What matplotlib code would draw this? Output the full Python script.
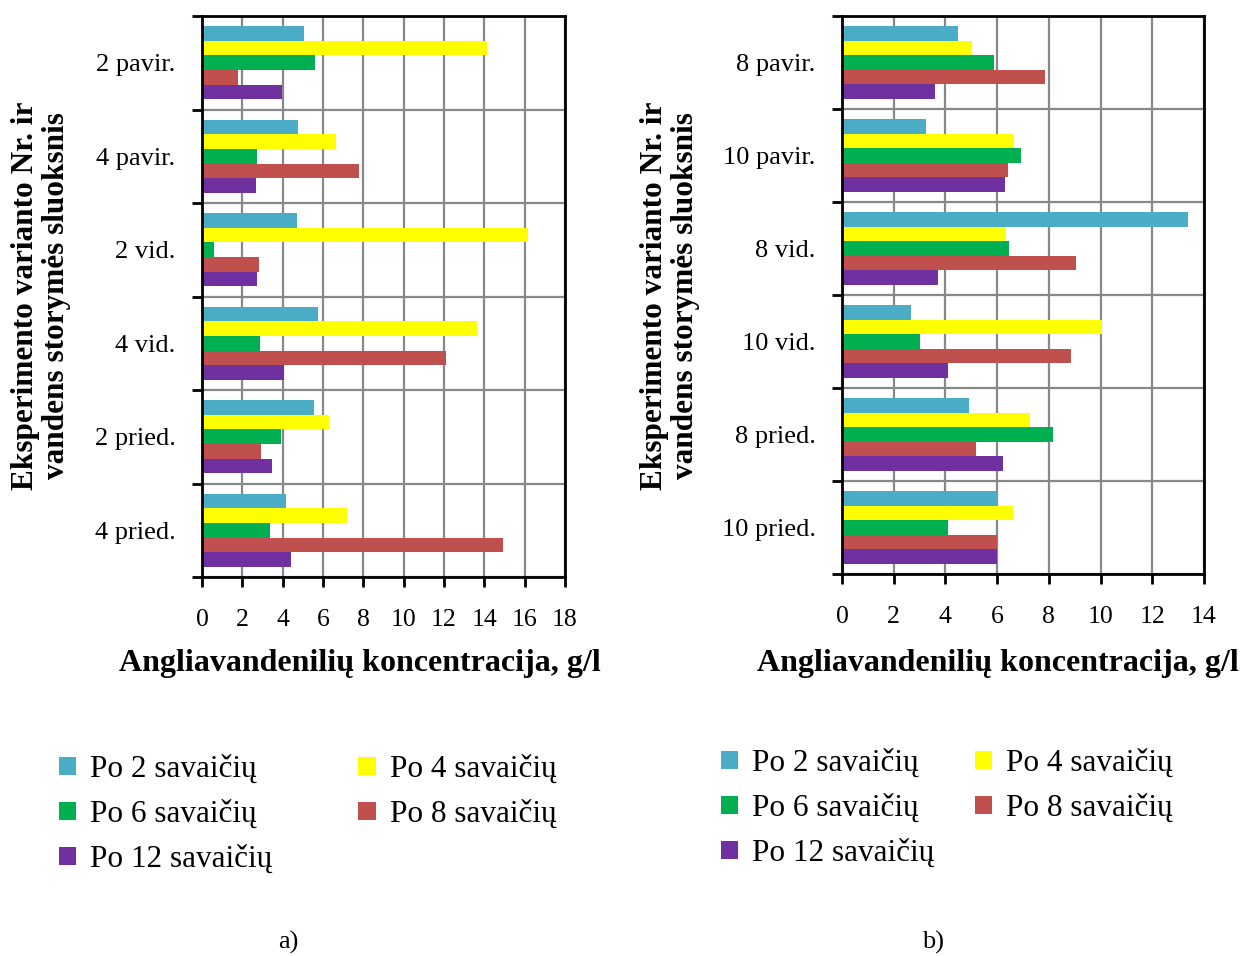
import matplotlib
matplotlib.use("Agg")
import matplotlib.pyplot as plt
import numpy as np
from matplotlib.patches import Patch

plt.rcParams['font.family'] = ['Liberation Serif', 'DejaVu Serif']

# ---- data ----
series_labels = ["Po 2 savaičių", "Po 4 savaičių", "Po 6 savaičių", "Po 8 savaičių", "Po 12 savaičių"]
series_colors = ["#4BACC6", "#FFFF00", "#00B050", "#C0504D", "#7030A0"]

cats_a = ["2 pavir.", "4 pavir.", "2 vid.", "4 vid.", "2 pried.", "4 pried."]
a_w2 = [5.05, 4.76, 4.71, 5.75, 5.55, 4.16]
a_w4 = [14.15, 6.62, 16.15, 13.66, 6.29, 7.18]
a_w6 = [5.60, 2.72, 0.59, 2.87, 3.91, 3.37]
a_w8 = [1.78, 7.78, 2.82, 12.09, 2.92, 14.91]
a_w12 = [3.96, 2.68, 2.72, 4.06, 3.47, 4.41]

cats_b = ["8 pavir.", "10 pavir.", "8 vid.", "10 vid.", "8 pried.", "10 pried."]
b_w2 = [4.49, 3.25, 13.38, 2.67, 4.91, 6.03]
b_w4 = [5.01, 6.64, 6.34, 10.04, 7.27, 6.61]
b_w6 = [5.88, 6.92, 6.46, 3.02, 8.16, 4.10]
b_w8 = [7.85, 6.42, 9.05, 8.86, 5.18, 5.99]
b_w12 = [3.60, 6.30, 3.71, 4.10, 6.23, 5.99]

xlabel = "Angliavandenilių koncentracija, g/l"
ylabel = "Eksperimento varianto Nr. ir\nvandens storymės sluoksnis"

fig = plt.figure(figsize=(12.41, 9.56), dpi=100)
W, H = 1241, 956

def axes_px(x0, x1, ytop, ybot):
    return fig.add_axes([x0 / W, 1 - ybot / H, (x1 - x0) / W, (ybot - ytop) / H])

def draw(ax, cats, series, xmax):
    n = len(cats)
    y = np.arange(n)
    h = 0.156
    for j, (vals, col) in enumerate(zip(series, series_colors)):
        ax.barh(y + (j - 2) * h, vals, height=h, color=col, zorder=3, linewidth=0)
    ax.set_ylim(n - 0.5, -0.5)
    ax.set_xlim(0, xmax)
    ax.set_xticks(np.arange(0, xmax + 1, 2))
    ax.set_yticks(np.arange(-0.5, n, 1.0))
    ax.set_yticklabels([])
    ax.set_yticks(y, minor=True)
    ax.set_yticklabels(cats, minor=True, fontsize=19)
    ax.tick_params(axis='y', which='minor', length=0, pad=19)
    ax.tick_params(axis='y', which='major', length=7, width=2, direction='out')
    ax.tick_params(axis='x', which='major', length=7, width=2, direction='out', labelsize=18.5, pad=16)
    ax.grid(True, which='major', color='#888888', linewidth=1.6, zorder=0)
    for s in ax.spines.values():
        s.set_color('black')
        s.set_linewidth(2)
        s.set_zorder(4)

ax1 = axes_px(202, 565, 16, 577)
draw(ax1, cats_a, [a_w2, a_w4, a_w6, a_w8, a_w12], 18)
ax2 = axes_px(842, 1204, 16, 574)
draw(ax2, cats_b, [b_w2, b_w4, b_w6, b_w8, b_w12], 14)

# axis titles
fig.text(360 / W, 1 - 664 / H, xlabel, ha='center', va='center', fontsize=23, fontweight='bold')
fig.text(998 / W, 1 - 664 / H, xlabel, ha='center', va='center', fontsize=23, fontweight='bold')
fig.text(41 / W, 1 - 296 / H, ylabel, ha='center', va='center', rotation=90, fontsize=22.5,
         fontweight='bold', multialignment='center', linespacing=1.05)
fig.text(670 / W, 1 - 296 / H, ylabel, ha='center', va='center', rotation=90, fontsize=22.5,
         fontweight='bold', multialignment='center', linespacing=1.05)

# legends (row-major order)
order = [0, 2, 4, 1, 3]
handles = [Patch(facecolor=series_colors[i], edgecolor='none') for i in order]
labels = [series_labels[i] for i in order]
common = dict(ncol=2, loc='upper left', frameon=False, fontsize=22.5, handlelength=0.55,
              handleheight=0.5, handletextpad=0.45, labelspacing=0.5, borderaxespad=0, borderpad=0)
fig.legend(handles, labels, bbox_to_anchor=(59 / W, 1 - 755 / H), columnspacing=2.75, **common)
fig.legend(handles, labels, bbox_to_anchor=(721 / W, 1 - 749 / H), columnspacing=1.3, **common)

fig.text(288 / W, 1 - 942 / H, "a)", ha='center', va='center', fontsize=19)
fig.text(933 / W, 1 - 942 / H, "b)", ha='center', va='center', fontsize=19)

fig.savefig("out.png", dpi=100)
